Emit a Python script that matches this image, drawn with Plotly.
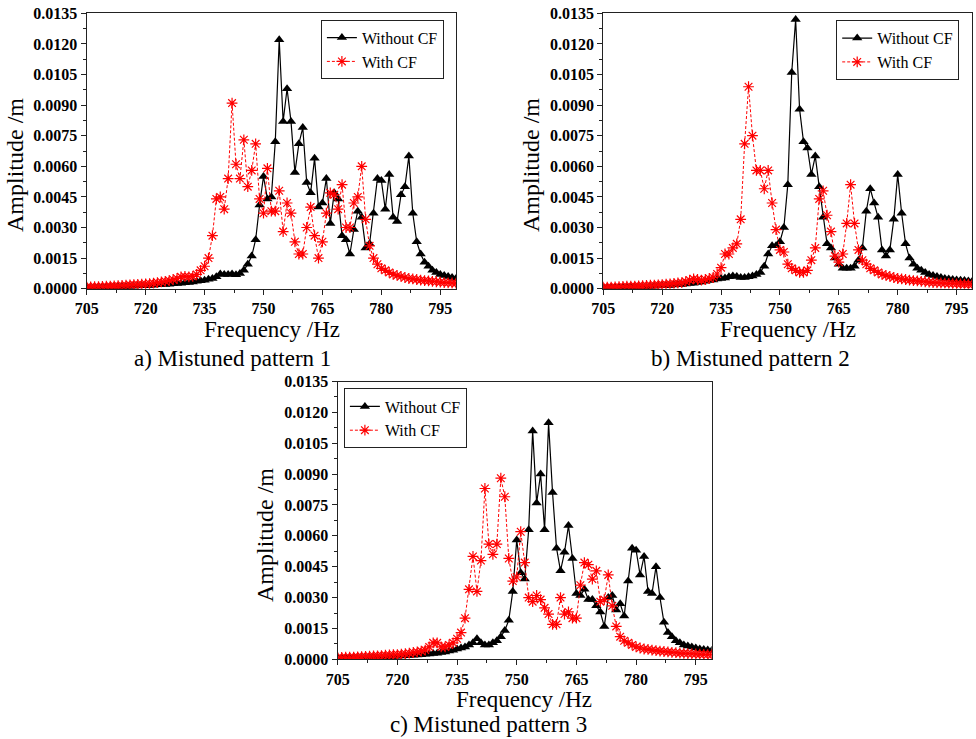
import plotly.graph_objects as go

W, H = 976, 739

# Frequency grid (Hz), one sample per Hz
freq = list(range(705, 800))

# ---------------- a) Mistuned pattern 1 ----------------
a_without = [0.00005, 0.00005, 0.00006, 0.00006, 0.00007, 0.00007, 0.00008, 0.00008, 0.00009, 0.0001,
             0.0001, 0.00011, 0.00012, 0.00013, 0.00014, 0.00015, 0.00016, 0.00017, 0.00019, 0.0002,
             0.00021, 0.00022, 0.00024, 0.00025, 0.00027, 0.00029, 0.00031, 0.00033, 0.00036, 0.00039,
             0.00042, 0.00046, 0.0005, 0.00058, 0.00072, 0.0007, 0.0007, 0.00072, 0.00068, 0.00075,
             0.0009, 0.0012, 0.0016, 0.0024, 0.0041, 0.0055, 0.0044, 0.0045, 0.0072, 0.0122,
             0.0082, 0.0098, 0.0082, 0.0057, 0.0071, 0.0079, 0.0052, 0.0047, 0.0064, 0.0040,
             0.0042, 0.0054, 0.0032, 0.0047, 0.0044, 0.0026, 0.0024, 0.0017, 0.0029, 0.0038,
             0.0035, 0.0020, 0.0022, 0.0037, 0.0054, 0.0053, 0.0039, 0.0056, 0.0035, 0.0033,
             0.0046, 0.0050, 0.0065, 0.0037, 0.0023, 0.0017, 0.0013, 0.0011, 0.0009, 0.0008,
             0.0007, 0.00065, 0.0006, 0.00055, 0.0005]
a_with = [0.00008, 0.00009, 0.0001, 0.0001, 0.00011, 0.00012, 0.00013, 0.00014, 0.00015, 0.00016,
          0.00017, 0.00019, 0.0002, 0.00021, 0.00022, 0.00023, 0.00025, 0.00027, 0.0003, 0.00033,
          0.00036, 0.0004, 0.00045, 0.0005, 0.00058, 0.0006, 0.00058, 0.0006, 0.0007, 0.0009,
          0.0011, 0.0015, 0.0026, 0.0044, 0.0045, 0.0039, 0.0054, 0.0091, 0.0061, 0.0054,
          0.0073, 0.0050, 0.0058, 0.0071, 0.0044, 0.0037, 0.0059, 0.0038, 0.0038, 0.0048,
          0.0028, 0.0042, 0.0037, 0.0023, 0.0017, 0.0017, 0.0030, 0.0040, 0.0026, 0.0015,
          0.0023, 0.0037, 0.0047, 0.0046, 0.0039, 0.0051, 0.0030, 0.0030, 0.0042, 0.0045,
          0.0060, 0.0034, 0.0021, 0.0015, 0.0012, 0.0010, 0.0009, 0.0008, 0.0007, 0.00065,
          0.0006, 0.00055, 0.0005, 0.00048, 0.00045, 0.00042, 0.0004, 0.00038, 0.00036, 0.00034,
          0.00032, 0.0003, 0.00029, 0.00028, 0.00027]

# ---------------- b) Mistuned pattern 2 ----------------
b_without = [0.00004, 0.00005, 0.00005, 0.00006, 0.00006, 0.00007, 0.00007, 0.00008, 0.00008, 0.00009,
             0.0001, 0.0001, 0.00011, 0.00012, 0.00013, 0.00014, 0.00015, 0.00016, 0.00018, 0.0002,
             0.00021, 0.00023, 0.00025, 0.00027, 0.0003, 0.00033, 0.00036, 0.0004, 0.00043, 0.00047,
             0.0005, 0.00052, 0.00058, 0.00062, 0.0006, 0.00055, 0.00055, 0.00058, 0.00062, 0.0007,
             0.0008, 0.0011, 0.0017, 0.0021, 0.0021, 0.0023, 0.0030, 0.0051, 0.0106, 0.0132,
             0.0088, 0.0072, 0.0069, 0.0056, 0.0065, 0.0050, 0.0035, 0.0022, 0.0020, 0.0015,
             0.0012, 0.0010, 0.0010, 0.0010, 0.0011, 0.0014, 0.0020, 0.0038, 0.0049, 0.0042,
             0.0035, 0.0019, 0.0016, 0.0019, 0.0034, 0.0056, 0.0037, 0.0022, 0.0015, 0.0012,
             0.0010, 0.0009, 0.0008, 0.0007, 0.00065, 0.0006, 0.00055, 0.0005, 0.00048, 0.00045,
             0.00043, 0.00041, 0.0004, 0.00038, 0.00037]
b_with = [0.00007, 0.00008, 0.00008, 0.00009, 0.0001, 0.00011, 0.00012, 0.00012, 0.00013, 0.00014,
          0.00015, 0.00016, 0.00017, 0.00018, 0.00019, 0.0002, 0.00022, 0.00024, 0.00026, 0.00028,
          0.0003, 0.00035, 0.00042, 0.00048, 0.00045, 0.00042, 0.00045, 0.0005, 0.00055, 0.00072,
          0.00103, 0.0017, 0.0017, 0.0020, 0.0022, 0.0034, 0.0071, 0.0099, 0.0075, 0.0058,
          0.0058, 0.0049, 0.0058, 0.0042, 0.0029, 0.0019, 0.0018, 0.0012, 0.0010, 0.0009,
          0.0008, 0.0008, 0.0009, 0.0014, 0.0020, 0.0044, 0.0048, 0.0036, 0.0028, 0.0016,
          0.0013, 0.0017, 0.0032, 0.0051, 0.0032, 0.0019, 0.0014, 0.0012, 0.0010, 0.0009,
          0.0008, 0.0007, 0.00065, 0.0006, 0.00055, 0.0005, 0.00048, 0.00045, 0.00042, 0.0004,
          0.00038, 0.00036, 0.00034, 0.00032, 0.0003, 0.00029, 0.00028, 0.00027, 0.00026, 0.00025,
          0.00024, 0.00023, 0.00022, 0.00022, 0.00021]

# ---------------- c) Mistuned pattern 3 ----------------
c_without = [0.00005, 0.00005, 0.00006, 0.00006, 0.00007, 0.00007, 0.00008, 0.00008, 0.00009, 0.0001,
             0.0001, 0.00011, 0.00012, 0.00013, 0.00014, 0.00015, 0.00016, 0.00017, 0.00019, 0.0002,
             0.00021, 0.00022, 0.00024, 0.00026, 0.00028, 0.0003, 0.00033, 0.00036, 0.0004, 0.00044,
             0.0005, 0.00055, 0.0006, 0.0007, 0.0008, 0.0010, 0.0008, 0.0007, 0.0007, 0.0008,
             0.0009, 0.0011, 0.0014, 0.0019, 0.0033, 0.0058, 0.0042, 0.0039, 0.0063, 0.0111,
             0.0076, 0.0090, 0.0063, 0.0115, 0.0081, 0.0054, 0.0043, 0.0052, 0.0065, 0.0049,
             0.0032, 0.0031, 0.0034, 0.0029, 0.0029, 0.0026, 0.0023, 0.0016, 0.0030, 0.0031,
             0.0024, 0.0027, 0.0021, 0.0038, 0.0054, 0.0053, 0.0041, 0.0050, 0.0033, 0.0032,
             0.0045, 0.0030, 0.0018, 0.0013, 0.0011, 0.0009, 0.0008, 0.0007, 0.00065, 0.0006,
             0.00055, 0.0005, 0.00048, 0.00045, 0.00043]
c_with = [0.00008, 0.00009, 0.0001, 0.0001, 0.00011, 0.00012, 0.00013, 0.00014, 0.00015, 0.00016,
          0.00017, 0.00018, 0.0002, 0.00021, 0.00022, 0.00023, 0.00025, 0.00027, 0.0003, 0.00033,
          0.00036, 0.0004, 0.00045, 0.0006, 0.0008, 0.0008, 0.0006, 0.0006, 0.0007, 0.0008,
          0.0010, 0.0013, 0.0020, 0.0034, 0.0050, 0.0033, 0.0048, 0.0083, 0.0056, 0.0051,
          0.0056, 0.0088, 0.0079, 0.0049, 0.0038, 0.0040, 0.0062, 0.0047, 0.0030, 0.0028,
          0.0031, 0.0029, 0.0025, 0.0022, 0.0017, 0.0017, 0.0030, 0.0022, 0.0023, 0.0020,
          0.0020, 0.0036, 0.0047, 0.0046, 0.0039, 0.0043, 0.0028, 0.0029, 0.0041, 0.0026,
          0.0016, 0.0011, 0.0009, 0.0008, 0.0007, 0.0006, 0.00055, 0.0005, 0.00048, 0.00045,
          0.00042, 0.0004, 0.00038, 0.00036, 0.00034, 0.00032, 0.0003, 0.00029, 0.00028, 0.00027,
          0.00026, 0.00025, 0.00024, 0.00023, 0.00022]

captions = ["a) Mistuned pattern 1", "b) Mistuned pattern 2", "c) Mistuned pattern 3"]
series_names = ["Without CF", "With CF"]
y_ticks = [0.0, 0.0015, 0.0030, 0.0045, 0.0060, 0.0075, 0.0090, 0.0105, 0.0120, 0.0135]
x_ticks = [705, 720, 735, 750, 765, 780, 795]

FONT = "Liberation Serif, Times New Roman, serif"


def fx(px):
    return px / W


def fy(py):
    return 1 - py / H


# panel geometry in pixels: (left, right, top, bottom)
panels = [
    (86.7, 456.0, 13.3, 288.7),
    (603.3, 972.3, 13.3, 288.7),
    (337.7, 711.7, 381.5, 659.3),
]
legend_pos = [(320.7, 19.5), (836.0, 20.0), (343.7, 388.3)]
xtitle_pos = [(271.5, 329), (787.7, 329), (523.5, 699)]
ytitle_pos = [(15, 165), (531, 165), (265, 535)]
caption_pos = [(232.5, 359), (750, 359), (488, 724)]

data = [(a_without, a_with), (b_without, b_with), (c_without, c_with)]

fig = go.Figure()
layout = dict(
    template="none",
    width=W, height=H,
    margin=dict(l=0, r=0, t=0, b=0, autoexpand=False),
    paper_bgcolor="white", plot_bgcolor="white",
    showlegend=True,
    annotations=[],
)

for i, (wo, wc) in enumerate(data):
    n = "" if i == 0 else str(i + 1)
    xa, ya = "x" + n, "y" + n
    leg = "legend" + n
    fig.add_trace(go.Scatter(
        x=freq, y=wo, name=series_names[0], mode="lines+markers",
        xaxis=xa, yaxis=ya, legend=leg,
        line=dict(color="black", width=1.2),
        marker=dict(symbol="triangle-up", size=9, color="black"),
    ))
    fig.add_trace(go.Scatter(
        x=freq, y=wc, name=series_names[1], mode="lines+markers",
        xaxis=xa, yaxis=ya, legend=leg,
        line=dict(color="red", width=1, dash="3px,2px"),
        marker=dict(symbol="asterisk-open", size=9, color="red",
                    line=dict(color="red", width=1.2)),
    ))
    l, r, t, b = panels[i]
    common = dict(
        automargin=False,
        showline=True, linecolor="#222", linewidth=1.3, mirror=True,
        ticks="outside", ticklen=5, tickwidth=1.2, tickcolor="#222",
        showgrid=False, zeroline=False,
        tickfont=dict(family=FONT, size=16, color="black", weight="bold"),
    )
    layout["xaxis" + n] = dict(
        common, domain=[fx(l), fx(r)], anchor=ya, range=[705, 799],
        tickmode="array", tickvals=x_ticks, ticktext=[str(v) for v in x_ticks],
        minor=dict(ticks="outside", ticklen=3, tickcolor="#222", tick0=705, dtick=7.5),
    )
    layout["yaxis" + n] = dict(
        common, domain=[fy(b), fy(t)], anchor=xa, range=[0, 0.0135],
        tickmode="array", tickvals=y_ticks, ticktext=["%.4f" % v for v in y_ticks],
        minor=dict(ticks="outside", ticklen=3, tickcolor="#222", tick0=0, dtick=0.00075),
    )
    lx, ly = legend_pos[i]
    layout[leg] = dict(
        x=fx(lx), y=fy(ly), xanchor="left", yanchor="top",
        bgcolor="white", bordercolor="#222", borderwidth=1.2,
        font=dict(family=FONT, size=16, color="black"),
        tracegroupgap=0, itemwidth=30,
    )
    tx, ty = xtitle_pos[i]
    layout["annotations"].append(dict(
        text="Frequency /Hz", x=fx(tx), y=fy(ty), xref="paper", yref="paper",
        showarrow=False, xanchor="center", yanchor="middle",
        font=dict(family=FONT, size=23, color="black")))
    tx, ty = ytitle_pos[i]
    layout["annotations"].append(dict(
        text="Amplitude /m", x=fx(tx), y=fy(ty), xref="paper", yref="paper",
        showarrow=False, xanchor="center", yanchor="middle", textangle=-90,
        font=dict(family=FONT, size=24, color="black")))
    tx, ty = caption_pos[i]
    layout["annotations"].append(dict(
        text=captions[i], x=fx(tx), y=fy(ty), xref="paper", yref="paper",
        showarrow=False, xanchor="center", yanchor="middle",
        font=dict(family=FONT, size=23, color="black")))

fig.update_layout(**layout)
fig.write_html("out.html")
